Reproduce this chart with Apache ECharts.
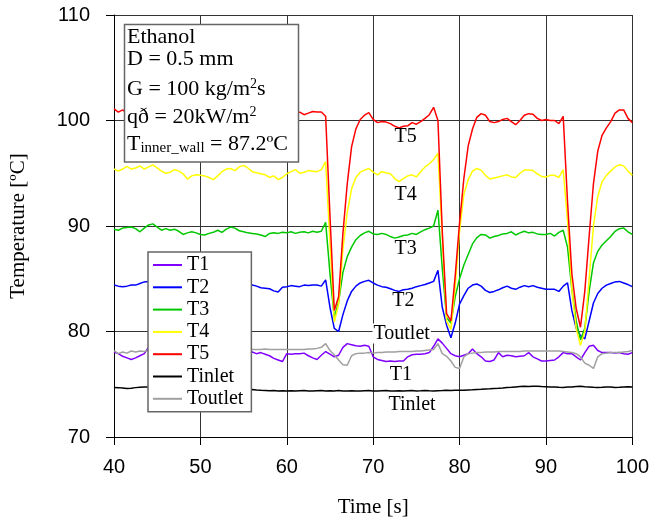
<!DOCTYPE html>
<html>
<head>
<meta charset="utf-8">
<script src="https://cdn.jsdelivr.net/npm/echarts@6/dist/echarts.min.js"></script>
<style>
  html, body { margin: 0; padding: 0; background: #fff; }
  #chart { width: 652px; height: 523px; }
</style>
</head>
<body>
<div id="chart"></div>
<script>
// Sampling instants, s
const timeS = [
  40, 40.5, 41, 41.5, 42, 42.5, 43, 43.5, 44, 44.5,
  45, 45.5, 46, 46.5, 47, 47.5, 48, 48.5, 49, 49.5,
  50, 50.5, 51, 51.5, 52, 52.5, 53, 53.5, 54, 54.5,
  55, 55.5, 56, 56.5, 57, 57.5, 58, 58.5, 59, 59.5,
  60, 60.5, 61, 61.5, 62, 62.5, 63, 63.5, 64, 64.5,
  65, 65.5, 66, 66.5, 67, 67.5, 68, 68.5, 69, 69.5,
  70, 70.5, 71, 71.5, 72, 72.5, 73, 73.5, 74, 74.5,
  75, 75.5, 76, 76.5, 77, 77.5, 78, 78.5, 79, 79.5,
  80, 80.5, 81, 81.5, 82, 82.5, 83, 83.5, 84, 84.5,
  85, 85.5, 86, 86.5, 87, 87.5, 88, 88.5, 89, 89.5,
  90, 90.5, 91, 91.5, 92, 92.5, 93, 93.5, 94, 94.5,
  95, 95.5, 96, 96.5, 97, 97.5, 98, 98.5, 99, 99.5,
  100
];

// Wall thermocouple readings, degC
const T1 = [
  78.05, 77.9, 77.65, 77.5, 77.35, 77.5, 77.7, 77.9, 78.5, 78.2,
  78.0, 77.8, 77.9, 78.1, 77.9, 77.7, 77.8, 78.0, 77.85, 77.7,
  77.9, 78.05, 77.9, 77.75, 77.9, 78.0, 77.8, 77.7, 77.85, 78.0,
  77.9, 77.95, 78.05, 77.9, 78.0, 77.85, 77.7, 77.45, 77.3, 77.15,
  77.9, 77.85, 77.9, 77.9, 77.95, 77.7, 77.5, 77.35, 77.75, 78.1,
  77.85, 77.6, 77.75, 78.5, 78.85, 78.75, 78.65, 78.6, 78.7, 78.6,
  77.6, 77.35, 77.25, 77.15, 77.2, 77.15, 77.2, 77.2, 77.6, 77.8,
  77.85, 77.85, 77.9, 78.0, 78.6, 79.3, 78.9, 78.4, 77.9, 77.7,
  77.6, 77.75, 77.9, 78.35, 77.9, 77.6, 77.2, 77.15, 77.3, 78.0,
  77.6, 77.75, 77.7, 77.6, 77.65, 77.7, 78.0, 77.6, 77.4, 77.2,
  77.2, 77.25, 77.3, 77.6, 78.0, 77.9, 77.9, 77.6, 77.3, 78.0,
  78.6, 78.7, 78.2, 78.0, 78.0, 78.0, 77.95, 78.0, 77.9, 77.85,
  78.0
];
const T2 = [
  84.4, 84.3, 84.25, 84.3, 84.4, 84.4, 84.55, 84.7, 84.75, 84.6,
  84.5, 84.4, 84.5, 84.45, 84.3, 84.4, 84.5, 84.35, 84.3, 84.4,
  84.45, 84.3, 84.25, 84.35, 84.4, 84.3, 84.35, 84.45, 84.3, 84.2,
  84.3, 84.4, 84.4, 84.3, 84.15, 84.1, 84.05, 83.85, 83.75, 84.2,
  84.25, 84.35, 84.3, 84.25, 84.4, 84.35, 84.4, 84.4, 84.3, 84.9,
  82.3, 80.3, 80.0, 81.6, 82.9, 83.8, 84.3, 84.6, 84.75, 84.85,
  84.6, 84.4, 84.25, 84.2, 84.05, 83.9, 83.8, 83.95, 84.0, 84.1,
  84.25, 84.35, 84.45, 84.6, 84.75, 85.8, 82.3, 80.6, 79.4, 80.8,
  82.6, 83.4, 84.1, 84.4, 84.5, 84.3, 83.9, 83.7, 83.8, 83.95,
  84.15, 84.3, 84.1, 84.0, 84.2, 84.35, 84.25, 84.35, 84.2, 84.1,
  84.0, 84.0, 84.0, 83.8, 84.3, 84.6, 82.0, 80.3, 79.6, 79.3,
  81.0, 82.7, 83.6, 84.1, 84.4, 84.55, 84.7, 84.75, 84.6, 84.45,
  84.25
];
const T3 = [
  89.7, 89.6, 89.8, 89.85, 89.9, 89.75, 89.45, 89.8, 90.1, 90.2,
  89.9, 89.6, 89.75, 89.6, 89.7, 89.5, 89.2, 89.35, 89.45, 89.35,
  89.2, 89.15, 89.3, 89.4, 89.6, 89.4, 89.7, 89.9, 89.8, 89.55,
  89.45, 89.35, 89.3, 89.25, 89.15, 89.0, 89.3, 89.35, 89.3, 89.4,
  89.35, 89.45, 89.3, 89.4, 89.45, 89.35, 89.5, 89.4, 89.5, 90.35,
  85.5, 81.3, 82.8, 85.6, 87.1, 88.0, 88.7, 89.1, 89.35, 89.5,
  89.25, 89.2, 89.3, 89.2, 89.0, 88.85, 88.95, 89.1, 89.15, 89.3,
  89.2, 89.45, 89.65, 89.8, 90.0, 91.5, 86.0, 81.3, 80.8, 83.3,
  85.0, 86.3, 87.3, 88.3, 88.9, 89.2, 89.15, 88.85, 89.0, 89.1,
  89.25, 89.3, 89.45, 89.15, 89.35, 89.5, 89.35, 89.4, 89.25, 89.2,
  89.2, 89.3, 89.05, 89.4, 89.6, 88.0, 84.0, 81.0, 79.2, 80.3,
  83.8, 86.5, 87.6, 88.2, 88.6, 89.0, 89.5, 89.75, 89.8, 89.45,
  89.2
];
const T4 = [
  95.4, 95.2, 95.4, 95.65, 95.4, 95.5, 95.7, 95.4, 95.6, 95.8,
  95.5, 95.2, 95.0, 95.1, 95.35, 95.2, 94.95, 94.45, 94.75, 94.85,
  94.8, 94.75, 94.6, 94.4, 94.75, 95.15, 95.4, 95.45, 95.25, 95.6,
  95.75, 95.5, 95.15, 95.05, 94.95, 94.85, 94.6, 94.75, 94.4, 94.6,
  94.95, 95.15, 95.35, 95.0, 95.1, 95.25, 95.2, 95.15, 95.35, 96.1,
  88.5, 80.9, 82.6, 87.8, 91.3, 93.5, 94.6, 95.1, 95.3, 95.45,
  95.1, 94.85, 95.15, 95.05, 94.95, 94.5, 94.2, 94.5, 94.75, 94.85,
  94.65, 95.15, 95.6, 95.9, 96.3, 96.9, 89.0, 81.0, 80.2, 84.3,
  89.5, 93.0, 94.4, 95.2, 95.45, 95.3, 94.8, 94.45, 94.55, 94.65,
  94.75, 94.85, 94.65, 94.6, 95.0, 95.3, 95.3, 95.25, 94.95, 94.7,
  94.65, 94.8, 94.8, 94.6, 95.35, 90.5, 84.0, 80.3, 78.7, 80.0,
  85.0, 90.0, 92.8, 94.2, 94.8, 95.2, 95.6, 95.8, 95.7, 95.2,
  94.8
];
const T5 = [
  101.1, 100.8, 101.0, 100.7, 100.5, 100.6, 100.4, 100.7, 100.5, 100.3,
  100.6, 100.8, 100.5, 100.4, 100.6, 100.5, 100.3, 100.5, 100.7, 100.6,
  100.4, 100.5, 100.6, 100.4, 100.5, 100.7, 100.6, 100.5, 100.4, 100.6,
  100.5, 100.3, 100.5, 100.7, 100.6, 100.4, 100.5, 100.6, 100.5, 100.4,
  100.6, 100.7, 100.6, 100.8, 100.55, 100.7, 100.85, 100.8, 100.8, 100.4,
  91.0, 82.0, 83.3, 89.3, 94.0, 97.5, 99.2, 100.1, 100.5, 100.75,
  100.1, 99.8, 99.9, 99.85, 99.7, 99.45, 99.3, 99.45, 99.5, 99.8,
  99.65, 99.9, 100.2, 100.55, 101.25, 100.0, 89.5, 81.7, 81.0, 85.3,
  90.3, 94.5, 97.6, 99.2, 100.3, 100.65, 100.5, 99.9, 99.8, 99.9,
  100.1, 100.2, 99.9, 99.6, 100.0, 100.5, 100.65, 100.6, 100.2, 100.0,
  100.1, 100.0, 100.0, 99.7, 100.4, 92.3, 85.5, 82.2, 80.4, 83.8,
  89.0, 94.0, 97.1, 98.6, 99.3, 99.9, 100.7, 101.0, 101.0, 100.2,
  99.8
];
// Fluid temperatures at the inlet and outlet plena, degC
const Tinlet = [
  74.7, 74.68, 74.65, 74.6, 74.63, 74.68, 74.72, 74.75, 74.75, 74.7,
  74.68, 74.65, 74.62, 74.6, 74.6, 74.58, 74.56, 74.55, 74.55, 74.53,
  74.52, 74.5, 74.5, 74.48, 74.47, 74.47, 74.46, 74.45, 74.45, 74.44,
  74.44, 74.43, 74.5, 74.45, 74.42, 74.4, 74.38, 74.4, 74.37, 74.38,
  74.37, 74.39, 74.36, 74.38, 74.4, 74.37, 74.36, 74.38, 74.4, 74.37,
  74.38, 74.36, 74.4, 74.37, 74.36, 74.38, 74.36, 74.35, 74.38, 74.4,
  74.37, 74.36, 74.38, 74.4, 74.37, 74.36, 74.38, 74.36, 74.38, 74.4,
  74.37, 74.38, 74.4, 74.38, 74.37, 74.39, 74.4, 74.42, 74.41, 74.43,
  74.43, 74.42, 74.45, 74.47, 74.5, 74.52, 74.55, 74.57, 74.6, 74.62,
  74.65, 74.7, 74.72, 74.75, 74.78, 74.8, 74.78, 74.8, 74.82, 74.78,
  74.76, 74.74, 74.75, 74.72, 74.7, 74.73, 74.75, 74.78, 74.8, 74.77,
  74.75, 74.72, 74.7, 74.72, 74.75, 74.73, 74.7, 74.72, 74.75, 74.76,
  74.75
];
const Toutlet = [
  78.2, 77.9, 78.05, 77.95, 78.15, 78.05, 78.15, 78.1, 78.2, 78.2,
  78.25, 78.2, 78.25, 78.2, 78.3, 78.25, 78.2, 78.25, 78.3, 78.25,
  78.3, 78.25, 78.3, 78.3, 78.25, 78.3, 78.3, 78.25, 78.3, 78.3,
  78.3, 78.3, 78.3, 78.3, 78.3, 78.35, 78.3, 78.3, 78.3, 78.3,
  78.3, 78.3, 78.3, 78.3, 78.3, 78.35, 78.35, 78.4, 78.5, 78.85,
  78.2, 77.8, 77.3, 76.85, 76.8, 77.7, 77.9, 77.95, 77.95, 78.0,
  77.95, 78.0, 78.0, 78.05, 78.05, 78.05, 78.1, 78.1, 78.1, 78.1,
  78.15, 78.15, 78.2, 78.25, 78.3, 78.85, 77.9, 77.65, 77.2, 76.6,
  76.5, 77.6, 77.9, 77.95, 78.0, 78.0, 78.05, 78.05, 78.05, 78.1,
  78.1, 78.1, 78.1, 78.1, 78.1, 78.15, 78.15, 78.15, 78.15, 78.15,
  78.15, 78.15, 78.15, 78.15, 78.1, 78.05, 78.0, 77.9, 77.6, 77.0,
  76.8, 76.5, 77.6, 77.9, 77.95, 78.0, 78.0, 78.0, 78.05, 78.1,
  78.2
];

const seriesNames = ['T1', 'T2', 'T3', 'T4', 'T5', 'Tinlet', 'Toutlet'];
const seriesValues = [T1, T2, T3, T4, T5, Tinlet, Toutlet];
const seriesColors = ['#8000ff', '#0000ff', '#00c800', '#ffff00', '#ff0000', '#000000', '#a0a0a0'];

// Curve tags written inside the plot (time, temperature)
const tagText = ['T5', 'T4', 'T3', 'T2', 'Toutlet', 'T1', 'Tinlet'];
const tagTime = [73.75, 73.75, 73.75, 73.5, 73.3, 73.2, 74.5];
const tagTemp = [98.5, 93.0, 87.8, 82.9, 79.8, 75.9, 73.1];

const xTicks = { min: 40, max: 100, step: 10 };
const yTicks = { min: 70, max: 110, step: 10 };

const SERIF = '"Liberation Serif", "Times New Roman", serif';
const SANS = '"Liberation Sans", Arial, sans-serif';

const chart = echarts.init(document.getElementById('chart'), null, { renderer: 'canvas' });

const lineSeries = seriesNames.map((name, k) => ({
  name: name,
  type: 'line',
  data: timeS.map((t, i) => [t, seriesValues[k][i]]),
  showSymbol: false,
  symbol: 'none',
  lineStyle: { color: seriesColors[k], width: 1.5 },
  itemStyle: { color: seriesColors[k] },
  animation: false,
  z: 2
}));

const tagSeries = {
  type: 'scatter',
  name: 'tags',
  symbol: 'circle',
  symbolSize: 0.1,
  itemStyle: { color: '#ffffff', opacity: 1 },
  data: tagText.map((s, i) => ({
    value: [tagTime[i], tagTemp[i]],
    label: s === 'Toutlet' ? { backgroundColor: '#fff', padding: [0, 1] } : {}
  })),
  label: {
    show: true,
    position: 'inside',
    formatter: p => tagText[p.dataIndex],
    fontFamily: SERIF,
    fontSize: 20,
    color: '#000',
    textBorderWidth: 0
  },
  emphasis: { disabled: true },
  silent: true,
  animation: false,
  z: 5
};

const boxFont = '22px ' + SERIF;
const rich2 = {
  m: { fontFamily: SERIF, fontSize: 22, lineHeight: 24, color: '#000' },
  s: { fontFamily: SERIF, fontSize: 14, lineHeight: 11, verticalAlign: 'top', color: '#000' },
  b: { fontFamily: SERIF, fontSize: 15, lineHeight: 14, verticalAlign: 'bottom', color: '#000' }
};

const option = {
  backgroundColor: '#fff',
  animation: false,
  grid: { left: 112, right: 13, top: 15, bottom: 86 },
  xAxis: {
    type: 'value',
    min: xTicks.min, max: xTicks.max, interval: xTicks.step,
    name: 'Time [s]',
    nameLocation: 'middle',
    nameGap: 60,
    nameTextStyle: { fontFamily: SERIF, fontSize: 21, color: '#000' },
    axisLine: { show: true, lineStyle: { color: '#000', width: 1 } },
    axisTick: { show: true, inside: false, length: 8, lineStyle: { color: '#000', width: 1 } },
    axisLabel: { margin: 20, fontFamily: SANS, fontSize: 20, color: '#000' },
    splitLine: { show: true, lineStyle: { color: '#333', width: 1 } }
  },
  yAxis: {
    type: 'value',
    min: yTicks.min, max: yTicks.max, interval: yTicks.step,
    name: 'Temperature [ºC]',
    nameLocation: 'middle',
    nameGap: 85,
    nameTextStyle: { fontFamily: SERIF, fontSize: 21, color: '#000' },
    axisLine: { show: true, lineStyle: { color: '#000', width: 1 } },
    axisTick: { show: true, inside: false, length: 8, lineStyle: { color: '#000', width: 1 } },
    axisLabel: { margin: 24, fontFamily: SANS, fontSize: 20, color: '#000' },
    splitLine: { show: true, lineStyle: { color: '#333', width: 1 } }
  },
  legend: {
    data: seriesNames,
    orient: 'vertical',
    left: 148,
    top: 252,
    icon: 'rect',
    itemWidth: 29,
    itemHeight: 2,
    itemGap: 0.3,
    padding: [2, 8, 2, 5],
    backgroundColor: '#fff',
    borderColor: '#666',
    borderWidth: 1.5,
    selectedMode: false,
    textStyle: { fontFamily: SERIF, fontSize: 20, lineHeight: 22, color: '#000' },
    z: 10
  },
  graphic: [
    {
      type: 'rect', z: 100,
      shape: { x: 124.5, y: 24.5, width: 174, height: 137.5 },
      style: { fill: '#fff', stroke: '#666', lineWidth: 1.5 }
    },
    { type: 'text', z: 101, x: 127, y: 37, style: { text: 'Ethanol', font: boxFont, fill: '#000', verticalAlign: 'middle' } },
    { type: 'text', z: 101, x: 127, y: 59.5, style: { text: 'D = 0.5 mm', font: boxFont, fill: '#000', verticalAlign: 'middle' } },
    { type: 'text', z: 101, x: 127, y: 89, style: { text: '{m|G = 100 kg/m}{s|2}{m|s}', verticalAlign: 'middle', fill: '#000', rich: rich2 } },
    { type: 'text', z: 101, x: 127, y: 117, style: { text: '{m|qð = 20kW/m}{s|2}', verticalAlign: 'middle', fill: '#000', rich: rich2 } },
    { type: 'text', z: 101, x: 127, y: 144, style: { text: '{m|T}{b|inner_wall}{m| = 87.2ºC}', verticalAlign: 'middle', fill: '#000', rich: rich2 } }
  ],
  series: lineSeries.concat([tagSeries])
};

chart.setOption(option);
</script>
</body>
</html>
